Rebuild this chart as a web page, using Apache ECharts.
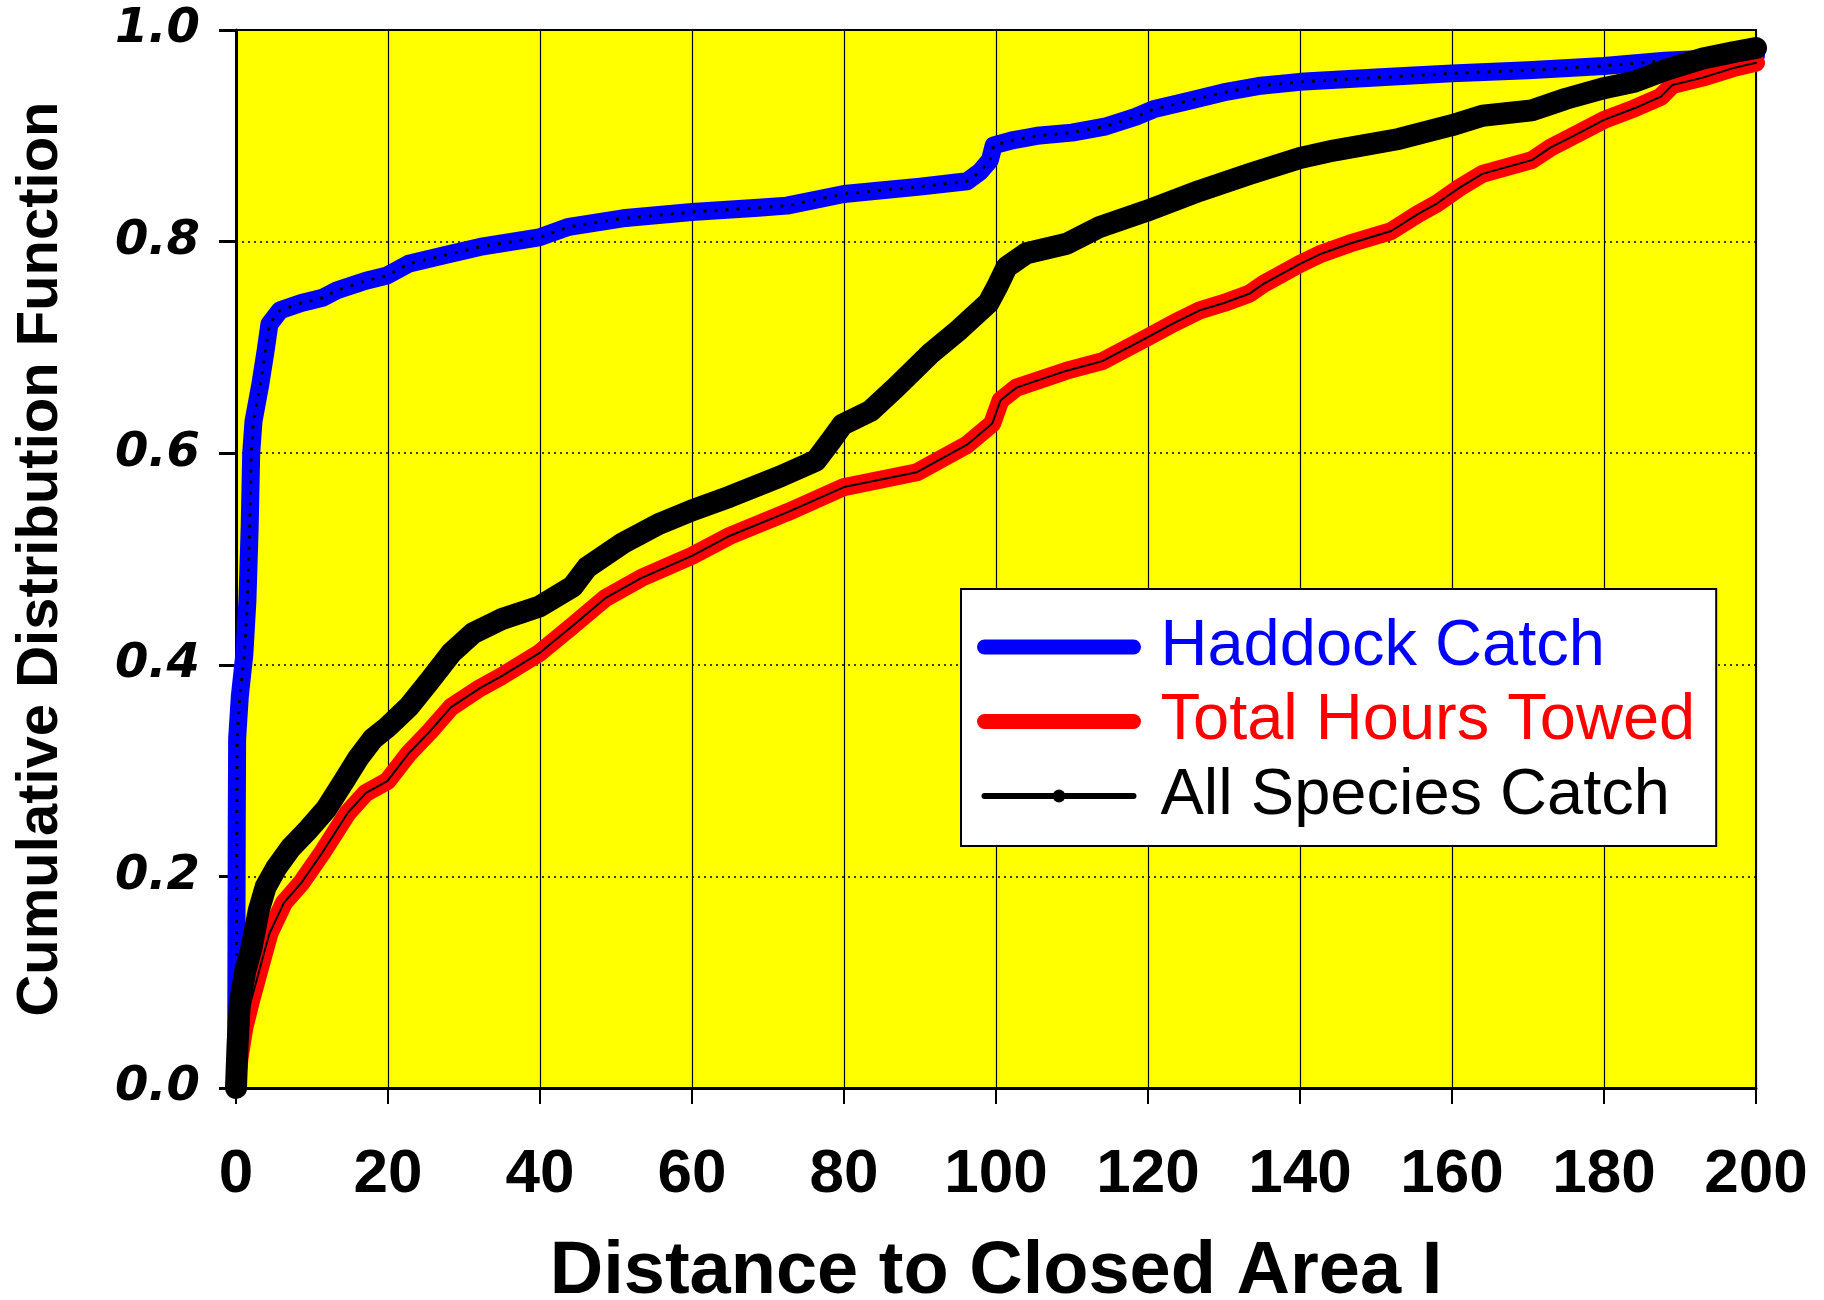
<!DOCTYPE html>
<html>
<head>
<meta charset="utf-8">
<script src="https://cdn.jsdelivr.net/npm/echarts@6/dist/echarts.min.js"></script>
<style>
  html, body { margin: 0; padding: 0; background: #ffffff; }
  #chart { width: 1824px; height: 1300px; }
</style>
</head>
<body>
<div id="chart"></div>
<script>
// Distance to Closed Area I (x) and cumulative share (y) for each series
const haddockDist = [0, 0.05, 0.1, 0.15, 0.5, 1.1, 1.5, 1.8, 2.0, 2.3, 3.2, 3.9, 4.4, 5.8, 8.6, 11.4, 13.3, 17.1, 19.9, 22.7, 27.4, 32.1, 39.9, 43.8, 50.9, 60, 68.7, 72.5, 80, 90, 96.2, 97.9, 99.2, 99.7, 102.3, 105.4, 110, 114.5, 118.4, 120.7, 125.3, 129.9, 134.5, 140, 150, 160, 170, 180, 188, 194, 200];
const haddockCdf  = [0, 0.1, 0.25, 0.33, 0.37, 0.41, 0.46, 0.53, 0.6, 0.63, 0.665, 0.697, 0.722, 0.735, 0.742, 0.747, 0.754, 0.763, 0.768, 0.779, 0.787, 0.795, 0.804, 0.814, 0.822, 0.828, 0.832, 0.834, 0.845, 0.852, 0.857, 0.866, 0.877, 0.891, 0.896, 0.900, 0.903, 0.909, 0.918, 0.925, 0.933, 0.941, 0.947, 0.951, 0.955, 0.959, 0.962, 0.966, 0.971, 0.973, 0.976];

const towedDist = [0, 0.5, 1.1, 2.0, 3.4, 4.4, 6.3, 8.6, 11.4, 14.7, 17.1, 19.9, 22.7, 25.5, 28.3, 32.1, 34.9, 39.9, 44.3, 48.6, 53.3, 60, 65, 72.5, 80, 89.6, 96.2, 99.5, 100.6, 102.7, 109.3, 114, 119.8, 123.4, 126.8, 130, 133.4, 135.2, 140, 142.6, 146.5, 152, 155.5, 158, 161, 164, 170.5, 173, 176, 180, 184, 187.5, 189, 193, 197, 200];
const towedCdf  = [0, 0.03, 0.057, 0.083, 0.12, 0.146, 0.175, 0.194, 0.223, 0.26, 0.279, 0.29, 0.316, 0.337, 0.36, 0.378, 0.389, 0.411, 0.437, 0.463, 0.482, 0.503, 0.522, 0.544, 0.568, 0.582, 0.608, 0.628, 0.65, 0.662, 0.678, 0.687, 0.709, 0.723, 0.735, 0.742, 0.751, 0.760, 0.779, 0.788, 0.798, 0.810, 0.826, 0.836, 0.851, 0.864, 0.877, 0.889, 0.900, 0.915, 0.926, 0.937, 0.948, 0.955, 0.964, 0.969];

const speciesDist = [0, 0.2, 0.5, 1.2, 2.0, 3.0, 3.9, 5.3, 7.2, 9.6, 11.9, 14.2, 16.1, 18.0, 19.9, 22.7, 25.5, 28.3, 31.2, 34.9, 39.9, 44.3, 46.2, 50.9, 55.6, 60, 65, 71.6, 76.3, 78.3, 79.8, 83.5, 86.8, 91.5, 95.2, 99.0, 100.2, 101.4, 104, 109.3, 113.7, 119.8, 126.8, 133.4, 140, 144.4, 153, 160, 164, 170.5, 175, 180, 184, 188, 193, 197, 200];
const speciesCdf  = [0, 0.04, 0.08, 0.11, 0.131, 0.168, 0.19, 0.208, 0.227, 0.245, 0.264, 0.29, 0.312, 0.33, 0.341, 0.36, 0.385, 0.411, 0.43, 0.443, 0.455, 0.474, 0.492, 0.515, 0.533, 0.546, 0.559, 0.578, 0.593, 0.612, 0.627, 0.640, 0.662, 0.695, 0.717, 0.742, 0.758, 0.776, 0.789, 0.798, 0.814, 0.829, 0.848, 0.864, 0.879, 0.886, 0.897, 0.910, 0.919, 0.924, 0.935, 0.945, 0.951, 0.962, 0.973, 0.979, 0.983];

const seriesNames = ['Haddock Catch', 'Total Hours Towed', 'All Species Catch'];
const xTickLabels = ['0', '20', '40', '60', '80', '100', '120', '140', '160', '180', '200'];
const yTickLabels = ['0.0', '0.2', '0.4', '0.6', '0.8', '1.0'];

function pairs(xs, ys) { return xs.map((x, i) => [x, ys[i]]); }

const haddock = pairs(haddockDist, haddockCdf);
const towed = pairs(towedDist, towedCdf);
const species = pairs(speciesDist, speciesCdf);

const chart = echarts.init(document.getElementById('chart'), null, { renderer: 'canvas' });

const roundLine = (color, width, type) => ({ color, width, type: type || 'solid', cap: 'round', join: 'round' });

chart.setOption({
  animation: false,
  backgroundColor: '#ffffff',
  grid: {
    left: 236, top: 30, right: 68, bottom: 212,
    outerBoundsMode: 'none', containLabel: false,
    show: true, backgroundColor: '#ffff00', borderColor: '#000000', borderWidth: 2
  },
  xAxis: {
    type: 'value', min: 0, max: 200, interval: 20,
    name: 'Distance to Closed Area I', nameLocation: 'middle', nameGap: 148,
    nameTextStyle: { fontFamily: 'Liberation Sans', fontWeight: 'bold', fontSize: 74, color: '#000' },
    axisLine: { show: true, onZero: false, lineStyle: { color: '#000', width: 3 } },
    axisTick: { show: true, length: 16, lineStyle: { color: '#000', width: 2 } },
    axisLabel: {
      margin: 56, fontFamily: 'Liberation Sans', fontWeight: 'bold', fontSize: 62, color: '#000',
      formatter: v => xTickLabels[Math.round(v / 20)]
    },
    splitLine: { show: true, lineStyle: { color: '#000', width: 1.2 } }
  },
  yAxis: {
    type: 'value', min: 0, max: 1, interval: 0.2,
    name: 'Cumulative Distribution Function', nameLocation: 'middle', nameGap: 166,
    nameTextStyle: { fontFamily: 'Liberation Sans', fontWeight: 'bold', fontSize: 58, color: '#000' },
    axisLine: { show: true, onZero: false, lineStyle: { color: '#000', width: 3 } },
    axisTick: { show: true, length: 17, lineStyle: { color: '#000', width: 3 } },
    axisLabel: {
      margin: 36, fontFamily: 'DejaVu Sans', fontWeight: 'bold', fontStyle: 'italic', fontSize: 48, color: '#000',
      formatter: v => yTickLabels[Math.round(v / 0.2)]
    },
    splitLine: { show: true, lineStyle: { color: '#000', width: 1.5, type: [2, 4] } }
  },
  legend: {
    data: [
      { name: seriesNames[0], textStyle: { color: '#0000ff' }, lineStyle: { width: 15, cap: 'round' } },
      { name: seriesNames[1], textStyle: { color: '#ff0000' }, lineStyle: { width: 15, cap: 'round' } },
      { name: seriesNames[2], textStyle: { color: '#000000' }, lineStyle: { width: 6, cap: 'round' } }
    ],
    orient: 'vertical', left: 961, top: 589,
    itemWidth: 149, itemHeight: 16, itemGap: 9.5,
    padding: [25.5, 21, 17.5, 16],
    backgroundColor: '#ffffff', borderColor: '#000000', borderWidth: 2,
    selectedMode: false,
    textStyle: { fontFamily: 'Liberation Sans', fontSize: 65, lineHeight: 65, padding: [0, 0, 0, 22] }
  },
  series: [
    {
      name: seriesNames[0], type: 'line', data: haddock, symbol: 'none', clip: false,
      itemStyle: { color: '#0000ff' }, lineStyle: roundLine('#0000ff', 18)
    },
    {
      name: 'haddock-points', type: 'line', data: haddock, symbol: 'none', clip: false,
      itemStyle: { color: '#000' }, lineStyle: { color: '#000', width: 3, type: [3, 8] }
    },
    {
      name: seriesNames[1], type: 'line', data: towed, symbol: 'none', clip: false,
      itemStyle: { color: '#ff0000' }, lineStyle: roundLine('#ff0000', 18)
    },
    {
      name: 'towed-trace', type: 'line', data: towed, symbol: 'none', clip: false,
      itemStyle: { color: '#000' }, lineStyle: roundLine('#000', 2)
    },
    {
      name: seriesNames[2], type: 'line', data: species, symbol: 'circle', symbolSize: 12,
      showSymbol: false, clip: false,
      itemStyle: { color: '#000' }, lineStyle: roundLine('#000', 22)
    }
  ]
});
</script>
</body>
</html>
